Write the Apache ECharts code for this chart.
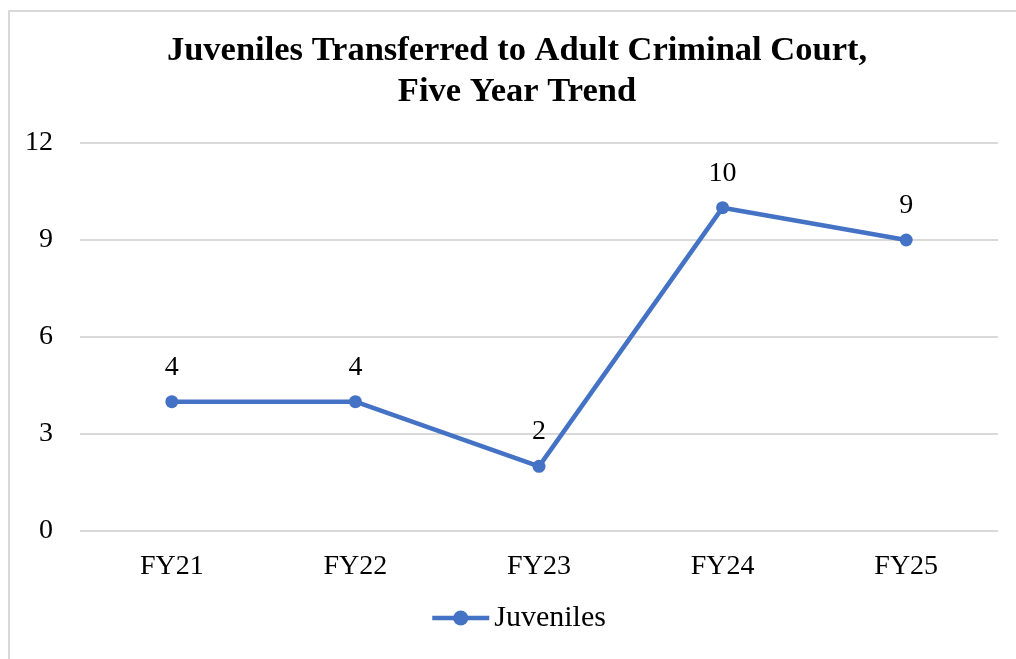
<!DOCTYPE html>
<html>
<head>
<meta charset="utf-8">
<script src="https://cdn.jsdelivr.net/npm/echarts@6/dist/echarts.min.js"></script>
<style>
  html, body { margin: 0; padding: 0; background: #fff; }
  #frame { position: absolute; left: 8px; top: 10px; width: 1020px; height: 660px; border: 2px solid #d9d9d9; box-sizing: border-box; }
  #chart { position: absolute; left: 0; top: 0; width: 1016px; height: 659px; }
</style>
</head>
<body>
<div id="frame"></div>
<div id="chart"></div>
<script>
const categories = ['FY21', 'FY22', 'FY23', 'FY24', 'FY25'];
const juveniles = [4, 4, 2, 10, 9];
const yTicks = [0, 3, 6, 9, 12];

const serif = '"Liberation Serif", "Times New Roman", serif';
const blue = '#4472c4';
const chart = echarts.init(document.getElementById('chart'));
chart.setOption({
  backgroundColor: 'transparent',
  title: {
    text: 'Juveniles Transferred to Adult Criminal Court,\nFive Year Trend',
    left: 512, top: 26, textAlign: 'center',
    textStyle: { fontFamily: serif, fontWeight: 'bold', fontSize: 34.5, color: '#000', lineHeight: 41 }
  },
  legend: {
    bottom: 21, left: 425,
    itemWidth: 57, itemHeight: 19, itemGap: 4,
    textStyle: { fontFamily: serif, fontSize: 30, color: '#000' },
    itemStyle: { color: blue },
    lineStyle: { color: blue, width: 4.5 },
    data: ['Juveniles']
  },
  grid: { left: 80, right: 18, top: 143, bottom: 128 },
  xAxis: {
    type: 'category', data: categories, boundaryGap: true,
    axisLine: { show: false }, axisTick: { show: false },
    axisLabel: { fontFamily: serif, fontSize: 28, color: '#000', margin: 22 }
  },
  yAxis: {
    type: 'value', min: yTicks[0], max: yTicks[yTicks.length - 1], interval: 3,
    axisLine: { show: false }, axisTick: { show: false },
    axisLabel: { fontFamily: serif, fontSize: 28, color: '#000', margin: 27 },
    splitLine: { lineStyle: { color: '#d9d9d9', width: 2 } }
  },
  series: [{
    name: 'Juveniles', type: 'line', data: juveniles,
    symbol: 'circle', symbolSize: 13,
    lineStyle: { color: blue, width: 4.5 },
    itemStyle: { color: blue },
    label: { show: true, position: 'top', distance: 14, fontFamily: serif, fontSize: 28, color: '#000' },
    emphasis: { disabled: true }
  }],
  animation: false
});
</script>
</body>
</html>
